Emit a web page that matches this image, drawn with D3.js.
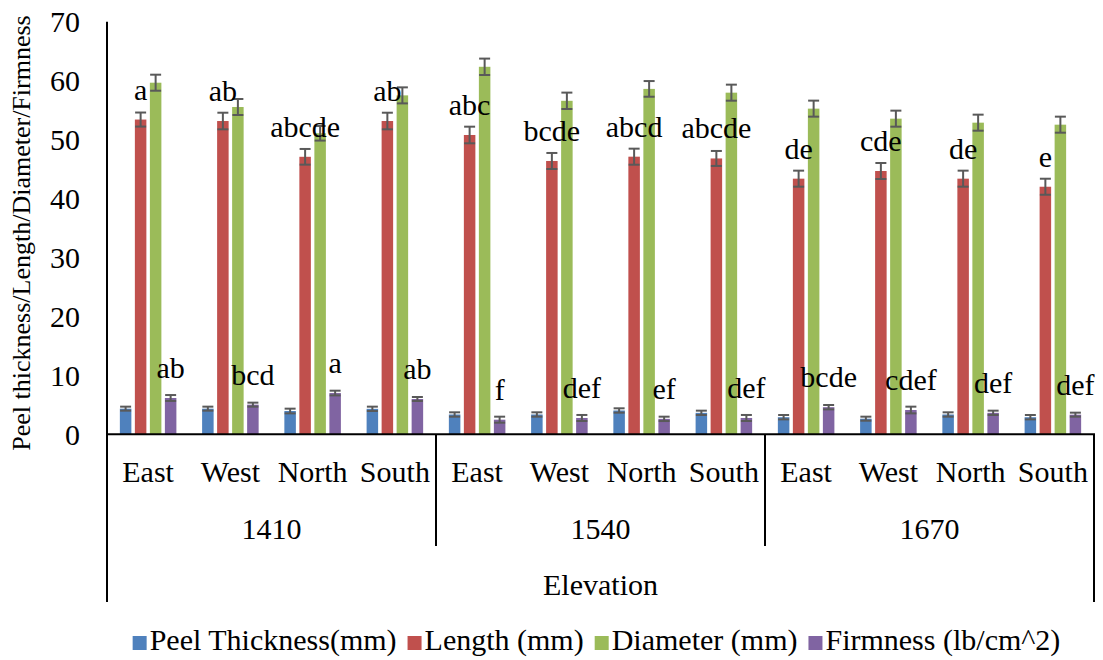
<!DOCTYPE html>
<html>
<head>
<meta charset="utf-8">
<script src="https://cdn.jsdelivr.net/npm/d3@7"></script>
</head>
<body style="margin:0;background:#fff">
<svg id="chart" width="1103" height="660"></svg>
<script>
// Orientation within each elevation
const directions = ["East", "West", "North", "South"];
// Elevations (m)
const elevations = ["1410", "1540", "1670"];
// Series names
const seriesNames = ["Peel Thickness(mm)", "Length (mm)", "Diameter (mm)", "Firmness (lb/cm^2)"];
const seriesColors = ["#4F81BD", "#C0504D", "#9BBB59", "#8064A2"];

// Means, ordered 1410 E/W/N/S, 1540 E/W/N/S, 1670 E/W/N/S
const peelThickness = [4.35, 4.35, 3.95, 4.32, 3.36, 3.36, 4.04, 3.64, 2.9, 2.65, 3.36, 2.9];
const lengthMm      = [53.4, 53.15, 47.08, 53.15, 50.78, 46.37, 47.1, 46.8, 43.37, 44.67, 43.37, 42.0];
const diameterMm    = [59.65, 55.53, 51.07, 57.5, 62.35, 56.58, 58.6, 57.96, 55.25, 53.55, 52.87, 52.53];
const firmness      = [6.16, 5.03, 7.0, 5.99, 2.48, 2.77, 2.62, 2.77, 4.6, 4.12, 3.64, 3.33];

// Standard errors
const peelErr     = [0.34, 0.34, 0.4, 0.37, 0.37, 0.37, 0.37, 0.37, 0.37, 0.34, 0.37, 0.37];
const lengthErr   = [1.19, 1.41, 1.33, 1.41, 1.41, 1.36, 1.36, 1.27, 1.36, 1.36, 1.36, 1.36];
const diameterErr = [1.36, 1.36, 1.24, 1.36, 1.39, 1.39, 1.33, 1.36, 1.36, 1.36, 1.36, 1.36];
const firmnessErr = [0.5, 0.34, 0.4, 0.34, 0.51, 0.51, 0.37, 0.51, 0.37, 0.57, 0.37, 0.34];

// Mean-separation letters
const lengthLetters   = ["a", "ab", "abcde", "ab", "abc", "bcde", "abcd", "abcde", "de", "cde", "de", "e"];
const firmnessLetters = ["ab", "bcd", "a", "ab", "f", "def", "ef", "def", "bcde", "cdef", "def", "def"];

const yTicks = [0, 10, 20, 30, 40, 50, 60, 70];

const seriesValues = [peelThickness, lengthMm, diameterMm, firmness];
const seriesErrors = [peelErr, lengthErr, diameterErr, firmnessErr];

const FONT = '"Liberation Serif", "Times New Roman", Tinos, serif';
const svg = d3.select("#chart");
const plotLeft = 107, plotRight = 1094, plotTop = 21.7, plotBottom = 434.3;

// Every label uses the serif face
function serif(sel, size) {
  return sel.attr("font-family", FONT)
    .style("font-family", FONT, "important")
    .style("font-size", size + "px", "important")
    .attr("fill", "#000");
}

const categories = [];
elevations.forEach(e => directions.forEach(d => categories.push(e + "|" + d)));

const x = d3.scaleBand().domain(categories).range([plotLeft, plotRight]).padding(0);
const xSub = d3.scaleBand().domain(d3.range(4)).range([0, x.bandwidth()])
  .paddingInner(0.233).paddingOuter(0.857);
const y = d3.scaleLinear().domain([0, 70]).range([plotBottom, plotTop]);

// Bars
const barData = [];
categories.forEach((c, i) => {
  for (let s = 0; s < 4; s++) {
    barData.push({ cat: c, s, v: seriesValues[s][i], e: seriesErrors[s][i], i });
  }
});

svg.append("g").selectAll("rect").data(barData).join("rect")
  .attr("x", d => x(d.cat) + xSub(d.s))
  .attr("y", d => y(d.v))
  .attr("width", xSub.bandwidth())
  .attr("height", d => y(0) - y(d.v))
  .attr("fill", d => seriesColors[d.s]);

// Error bars
const capHalf = 5.5;
const eg = svg.append("g").attr("stroke", "#595959").attr("stroke-width", 2).attr("fill", "none");
barData.forEach(d => {
  const cx = x(d.cat) + xSub(d.s) + xSub.bandwidth() / 2;
  const y1 = y(d.v + d.e), y2 = y(d.v - d.e);
  eg.append("line").attr("x1", cx).attr("x2", cx).attr("y1", y1).attr("y2", y2);
  eg.append("line").attr("x1", cx - capHalf).attr("x2", cx + capHalf).attr("y1", y1).attr("y2", y1);
  eg.append("line").attr("x1", cx - capHalf).attr("x2", cx + capHalf).attr("y1", y2).attr("y2", y2);
});

// Letter labels above Length and Firmness bars
categories.forEach((c, i) => {
  [[1, lengthLetters], [3, firmnessLetters]].forEach(([s, letters]) => {
    serif(svg.append("text"), 30)
      .attr("text-anchor", "middle")
      .attr("x", x(c) + xSub(s) + xSub.bandwidth() / 2)
      .attr("y", y(seriesValues[s][i]) - 20)
      .text(letters[i]);
  });
});

// Value axis
svg.append("line").attr("x1", plotLeft).attr("x2", plotLeft).attr("y1", plotTop).attr("y2", plotBottom)
  .attr("stroke", "#000").attr("stroke-width", 2);
yTicks.forEach(t => {
  serif(svg.append("text"), 30).attr("text-anchor", "end")
    .attr("x", 80).attr("y", y(t)).attr("dy", "0.35em").text(t);
});

// Category axis with grouped labels
const axisG = svg.append("g").attr("stroke", "#000").attr("stroke-width", 2);
axisG.append("line").attr("x1", plotLeft - 1).attr("x2", plotRight + 1).attr("y1", plotBottom).attr("y2", plotBottom);
[0, 4, 8, 12].forEach(k => {
  const xx = k < 12 ? x(categories[k]) : plotRight;
  const outer = (k === 0 || k === 12);
  axisG.append("line").attr("x1", xx).attr("x2", xx)
    .attr("y1", plotBottom).attr("y2", outer ? 602 : 546);
});

categories.forEach(c => {
  serif(svg.append("text"), 30).attr("text-anchor", "middle")
    .attr("x", x(c) + x.bandwidth() / 2).attr("y", 482)
    .text(c.split("|")[1]);
});

elevations.forEach((e, k) => {
  const x0 = x(categories[k * 4]);
  const x1 = k < 2 ? x(categories[k * 4 + 4]) : plotRight;
  serif(svg.append("text"), 30).attr("text-anchor", "middle")
    .attr("x", (x0 + x1) / 2).attr("y", 539).text(e);
});

serif(svg.append("text"), 30).attr("text-anchor", "middle")
  .attr("x", (plotLeft + plotRight) / 2).attr("y", 595).text("Elevation");

// Axis title
serif(svg.append("text"), 26).attr("text-anchor", "middle")
  .attr("transform", `translate(30,${(plotTop + plotBottom) / 2 + 5}) rotate(-90)`)
  .text("Peel thickness/Length/Diameter/Firmness");

// Legend
const items = seriesNames.map((n, k) => {
  const g = svg.append("g");
  g.append("rect").attr("x", 0).attr("y", -14).attr("width", 14).attr("height", 14).attr("fill", seriesColors[k]);
  const t = serif(g.append("text"), 30).attr("x", 17).attr("y", 0).text(n);
  return { g, w: 17 + t.node().getComputedTextLength() };
});
const gap = 11;
const total = d3.sum(items, d => d.w) + gap * (items.length - 1);
let lx = 596.5 - total / 2;
items.forEach(it => {
  it.g.attr("transform", `translate(${lx},650)`);
  lx += it.w + gap;
});
</script>
</body>
</html>
